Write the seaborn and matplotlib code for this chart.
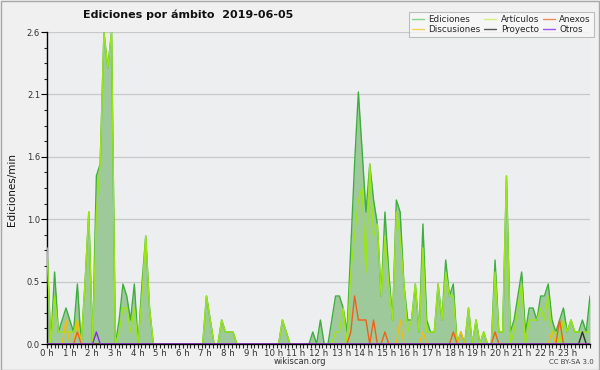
import numpy as np
import matplotlib
matplotlib.use("Agg")
import matplotlib.pyplot as plt
import seaborn as sns
from matplotlib.lines import Line2D
from matplotlib.patches import Rectangle

# Ediciones por minuto, cada 10 minutos (144 muestras)
ediciones = [
    0.8, 0, 0.6, 0.1, 0.2, 0.3, 0.2, 0.1, 0.5, 0, 0.5, 1.1,
    0, 1.4, 1.5, 2.6, 2.3, 2.6, 0, 0.2, 0.5, 0.4, 0.2, 0.5,
    0, 0.5, 0.9, 0.3, 0, 0, 0, 0, 0, 0, 0, 0,
    0, 0, 0, 0, 0, 0, 0.4, 0.2, 0, 0, 0.2, 0.1,
    0.1, 0.1, 0, 0, 0, 0, 0, 0, 0, 0, 0, 0,
    0, 0, 0.2, 0.1, 0, 0, 0, 0, 0, 0, 0.1, 0,
    0.2, 0, 0, 0.2, 0.4, 0.4, 0.3, 0.1, 0.8, 1.5, 2.1, 1.6,
    1.1, 1.5, 1.2, 1.0, 0.4, 1.1, 0.6, 0.2, 1.2, 1.1, 0.5, 0.2,
    0.2, 0.5, 0.1, 1.0, 0.2, 0.1, 0.1, 0.5, 0.2, 0.7, 0.4, 0.5,
    0, 0.1, 0, 0.3, 0, 0.2, 0, 0.1, 0, 0, 0.7, 0.1,
    0.1, 1.4, 0.1, 0.2, 0.4, 0.6, 0.1, 0.3, 0.3, 0.2, 0.4, 0.4,
    0.5, 0.2, 0.1, 0.2, 0.3, 0.1, 0.2, 0.1, 0.1, 0.2, 0.1, 0.4,
]
articulos = [
    0.8, 0, 0.4, 0.1, 0.1, 0.1, 0.1, 0.1, 0.2, 0, 0.5, 1.1,
    0, 1.1, 1.5, 2.6, 2.3, 2.6, 0, 0.1, 0.3, 0.3, 0.1, 0.3,
    0, 0.4, 0.9, 0.3, 0, 0, 0, 0, 0, 0, 0, 0,
    0, 0, 0, 0, 0, 0, 0.4, 0.2, 0, 0, 0.2, 0.1,
    0.1, 0.1, 0, 0, 0, 0, 0, 0, 0, 0, 0, 0,
    0, 0, 0.2, 0.1, 0, 0, 0, 0, 0, 0, 0, 0,
    0, 0, 0, 0, 0.1, 0.1, 0.3, 0, 0.6, 0.9, 1.2, 1.3,
    0.6, 1.5, 0.9, 1.0, 0.4, 0.9, 0.5, 0.2, 1.1, 0.9, 0.5, 0.1,
    0.2, 0.5, 0.1, 0.8, 0.1, 0.1, 0.1, 0.5, 0.2, 0.6, 0.4, 0.4,
    0, 0, 0, 0.3, 0, 0.2, 0, 0.1, 0, 0, 0.6, 0.1,
    0.1, 1.4, 0, 0.1, 0.3, 0.5, 0, 0.2, 0.2, 0.2, 0.3, 0.2,
    0.4, 0.1, 0.1, 0, 0.2, 0.1, 0.2, 0.1, 0.1, 0.1, 0.1, 0.1,
]
# series pequeñas: {índice: valor}
anexos_pts = {8: 0.1, 80: 0.1, 81: 0.4, 82: 0.2, 83: 0.2, 84: 0.2, 86: 0.2,
              89: 0.1, 107: 0.1, 118: 0.1, 135: 0.2}
discusiones_pts = {5: 0.2, 8: 0.2, 93: 0.2, 99: 0.1, 109: 0.1, 133: 0.1}
proyecto_pts = {141: 0.1}
otros_pts = {13: 0.1}

hour_labels = [f"{h} h" for h in range(24)]
y_max = 2.6

n = len(ediciones)


def expand(pts):
    arr = np.zeros(n)
    for k, v in pts.items():
        arr[k] = v
    return arr


anexos = expand(anexos_pts)
discusiones = expand(discusiones_pts)
proyecto = expand(proyecto_pts)
otros = expand(otros_pts)
x = np.linspace(0, 24, n)

sns.set_style("white")
plt.rcParams["font.family"] = ["DejaVu Sans"]

fig = plt.figure(figsize=(6, 3.7), dpi=100, facecolor="#f0f0f0")
ax = fig.add_axes([47 / 600, 1 - 344 / 370, 543 / 600, 312 / 370])
ax.set_facecolor("#eceef0")

# area + lines
ax.fill_between(x, ediciones, color="#9ec99b", lw=0, zorder=2)
sns.lineplot(x=x, y=ediciones, color="#3fae3f", lw=1.0, ax=ax, zorder=3)
sns.lineplot(x=x, y=articulos, color="#9be614", lw=1.0, ax=ax, zorder=4)
sns.lineplot(x=x, y=discusiones, color="#f2bd10", lw=1.0, ax=ax, zorder=5)
sns.lineplot(x=x, y=anexos, color="#f0601a", lw=1.0, ax=ax, zorder=6)
sns.lineplot(x=x, y=proyecto, color="#303030", lw=1.0, ax=ax, zorder=6)
sns.lineplot(x=x, y=otros, color="#8a2be2", lw=1.0, ax=ax, zorder=6)

ax.set_xlim(0, 24)
ax.set_ylim(0, y_max)

yt = np.linspace(0, y_max, 6)
ax.set_yticks(yt)
ax.set_yticklabels([f"{v:.1f}" for v in yt])
ax.set_yticks(np.linspace(0, y_max, 21), minor=True)
ax.set_xticks(np.arange(24))
ax.set_xticklabels(hour_labels)
ax.set_xticks(np.arange(0, 24.01, 1 / 6), minor=True)

ax.yaxis.grid(True, color="#c8c8c8", lw=0.9, zorder=1)
ax.set_axisbelow(True)
for s in ["top", "right"]:
    ax.spines[s].set_visible(False)
for s in ["left", "bottom"]:
    ax.spines[s].set_color("black")
    ax.spines[s].set_linewidth(1.0)

ax.tick_params(axis="y", which="major", length=4, width=0.8, labelsize=6,
               pad=1, colors="black", labelcolor="#333333", left=True)
ax.tick_params(axis="y", which="minor", length=2, width=0.8, left=True)
ax.tick_params(axis="x", which="both", length=3, width=0.8, labelsize=6.2,
               pad=0.5, labelcolor="#333333", bottom=True)
ax.set_xlabel("")
ax.set_ylabel("")

fig.text(188 / 600, 1 - 15 / 370, "Ediciones por ámbito  2019-06-05",
         ha="center", va="center", fontsize=8, fontweight="bold", color="#111111")
fig.text(12 / 600, 1 - 190 / 370, "Ediciones/min", rotation=90,
         ha="center", va="center", fontsize=7.5, color="#111111")
fig.text(300 / 600, 1 - 362 / 370, "wikiscan.org", ha="center", va="center",
         fontsize=6, color="#333333")
fig.text(571 / 600, 1 - 362 / 370, "CC BY-SA 3.0", ha="center", va="center",
         fontsize=5, color="#444444")

handles = [
    Line2D([], [], color="#86d486", lw=1.0, label="Ediciones"),
    Line2D([], [], color="#f2d45a", lw=1.0, label="Discusiones"),
    Line2D([], [], color="#d2f07a", lw=1.0, label="Artículos"),
    Line2D([], [], color="#555555", lw=1.0, label="Proyecto"),
    Line2D([], [], color="#f08a5a", lw=1.0, label="Anexos"),
    Line2D([], [], color="#9a55ee", lw=1.0, label="Otros"),
]
leg = fig.legend(handles=handles, ncol=3, loc="upper right",
                 bbox_to_anchor=(594 / 600, 1 - 12 / 370),
                 fontsize=6.3, frameon=True, fancybox=False, shadow=False,
                 handlelength=1.4, handletextpad=0.5, columnspacing=0.4,
                 labelspacing=0.15, borderpad=0.35, borderaxespad=0)
leg.get_frame().set_facecolor("#f8f8f8")
leg.get_frame().set_edgecolor("#b0b0b0")
leg.get_frame().set_linewidth(0.8)

fig.patches.append(Rectangle((0.001, 0.001), 0.997, 0.997, transform=fig.transFigure,
                             fill=False, edgecolor="#a8a8a8", lw=1.0))

fig.savefig("out.png", dpi=100, facecolor=fig.get_facecolor())
